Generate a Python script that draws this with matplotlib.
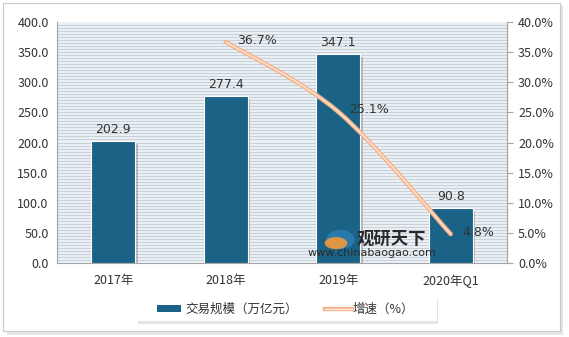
import matplotlib.pyplot as plt
import matplotlib.patheffects as pe
from matplotlib.path import Path
from matplotlib.patches import PathPatch, Rectangle, FancyBboxPatch, Ellipse
import numpy as np

plt.rcParams['font.family'] = ['Noto Sans CJK SC', 'DejaVu Sans']

categories = ["2017年", "2018年", "2019年", "2020年Q1"]
volume = [202.9, 277.4, 347.1, 90.8]
growth_idx = [1, 2, 3]
growth = [36.7, 25.1, 4.8]

bar_color = "#1b6386"
line_color = "#f5b48c"
text_color = "#333333"
grid_color = "#c9d0d6"


def smooth_path(xs, ys, tension=1 / 6):
    # cubic bezier segments through the points (Catmull-Rom style)
    pts = np.column_stack([xs, ys]).astype(float)
    n = len(pts)
    verts = [pts[0]]
    codes = [Path.MOVETO]
    for i in range(n - 1):
        p0 = pts[i - 1] if i > 0 else pts[i]
        p1, p2 = pts[i], pts[i + 1]
        p3 = pts[i + 2] if i + 2 < n else pts[i + 1]
        c1 = p1 + (p2 - p0) * tension
        c2 = p2 - (p3 - p1) * tension
        verts += [c1, c2, p2]
        codes += [Path.CURVE4] * 3
    return Path(verts, codes)


fig = plt.figure(figsize=(5.69, 3.37), dpi=100)
fig.patch.set_facecolor("white")

# outer frame with soft shadow
fig.add_artist(Rectangle((0.012, 0.005), 0.978, 0.98, transform=fig.transFigure,
                         facecolor="#e6e6e6", edgecolor="none", zorder=-3))
fig.add_artist(Rectangle((0.006, 0.018), 0.978, 0.972, transform=fig.transFigure,
                         facecolor="white", edgecolor="#c8c8c8", lw=0.8, zorder=-2))

ax = fig.add_axes([57 / 569, 1 - 263 / 337, 450 / 569, 241 / 337])
ax.set_facecolor("#eaf1f7")
x = np.arange(len(categories))

for y in np.arange(5, 400, 5):
    ax.axhline(y, color=grid_color, lw=0.8, zorder=0)

bars = ax.bar(x, volume, width=0.39, color=bar_color, edgecolor="white", lw=0.8, zorder=3,
              path_effects=[pe.SimplePatchShadow(offset=(2, -2), shadow_rgbFace="#888888", alpha=0.5),
                            pe.Normal()])
for xi, v in zip(x, volume):
    ax.text(xi, v + 8, f"{v:.1f}", ha="center", va="bottom", fontsize=9, color=text_color,
            family="DejaVu Sans", zorder=6)

ax.set_xlim(-0.5, len(categories) - 0.5)
ax.set_ylim(0, 400)
ax.set_yticks(np.arange(0, 401, 50))
ax.set_yticklabels([f"{v:.1f}" for v in np.arange(0, 401, 50)], fontsize=9, color=text_color)
ax.set_xticks(x)
ax.set_xticklabels(categories, fontsize=9, color=text_color)
ax.tick_params(axis="x", length=0, pad=8)
ax.tick_params(axis="y", length=0, pad=6)
ax.spines["top"].set_visible(False)
for s in ["left", "bottom", "right"]:
    ax.spines[s].set_color("#a6a6a6")

ax2 = ax.twinx()
ax2.set_ylim(0, 40)
ax2.set_yticks(np.arange(0, 41, 5))
ax2.set_yticklabels([f"{v:.1f}%" for v in np.arange(0, 41, 5)], fontsize=9, color=text_color)
ax2.tick_params(axis="y", length=4, color="#a6a6a6", pad=4)
for s in ["top", "left", "bottom"]:
    ax2.spines[s].set_visible(False)
ax2.spines["right"].set_color("#a6a6a6")

curve = smooth_path(growth_idx, growth)
ax2.add_patch(PathPatch(curve, facecolor="none", edgecolor=line_color, lw=3.2, zorder=4,
                        capstyle="round"))
ax2.add_patch(PathPatch(curve, facecolor="none", edgecolor="#fde9dc", lw=0.9, zorder=5))
for xi, g in zip(growth_idx, growth):
    ax2.text(xi + 0.1, g + 0.3, f"{g:.1f}%", ha="left", va="center", fontsize=9, color=text_color,
             family="DejaVu Sans", zorder=6)

# watermark
ax2.add_patch(Ellipse((2.02, 3.9), 0.25, 3.2, facecolor="#2f7fb5", edgecolor="none", alpha=0.8, zorder=7))
ax2.add_patch(Ellipse((1.98, 3.3), 0.2, 2.0, facecolor="#f39a3a", edgecolor="none", alpha=0.9, zorder=7))
ax2.text(2.47, 4.0, "观研天下", fontsize=12.5, fontweight="bold", color="#2a2a2a", ha="center",
         va="center", zorder=7)
ax2.text(2.3, 1.65, "www.chinabaogao.com", fontsize=8, color="#2a2a2a", ha="center",
         va="center", family="DejaVu Sans", zorder=7)

# legend box
fig.add_artist(FancyBboxPatch((137 / 569, 1 - 321 / 337), 300 / 569, 26 / 337,
                              boxstyle="square,pad=0", transform=fig.transFigure,
                              facecolor="white", edgecolor="none", zorder=1,
                              path_effects=[pe.SimplePatchShadow(offset=(1, -2), alpha=0.15),
                                            pe.Normal()]))
ly = 1 - 309 / 337
fig.add_artist(Rectangle((157 / 569, ly - 3 / 337), 24 / 569, 7 / 337, transform=fig.transFigure,
                         facecolor=bar_color, edgecolor="none", zorder=2))
fig.text(185 / 569, ly, "交易规模（万亿元）", fontsize=9, color=text_color, va="center", zorder=2)
fig.add_artist(plt.Line2D([325 / 569, 352 / 569], [ly, ly], transform=fig.transFigure,
                          color=line_color, lw=3.2, zorder=2))
fig.add_artist(plt.Line2D([325 / 569, 352 / 569], [ly, ly], transform=fig.transFigure,
                          color="#fde9dc", lw=0.9, zorder=3))
fig.text(353 / 569, ly, "增速（%）", fontsize=9, color=text_color, va="center", zorder=2)

fig.savefig("out.png", dpi=100)
